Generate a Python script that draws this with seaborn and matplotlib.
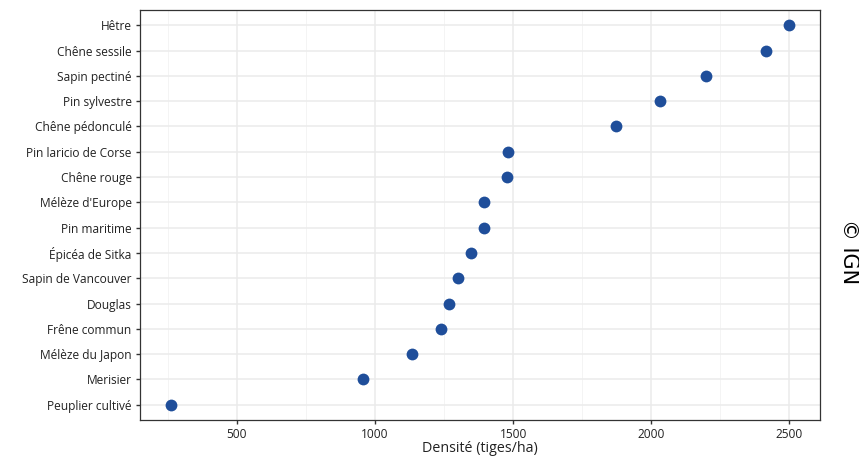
import pandas as pd
import matplotlib.pyplot as plt
import seaborn as sns

# Data
especes = ["Hêtre", "Chêne sessile", "Sapin pectiné", "Pin sylvestre", "Chêne pédonculé",
           "Pin laricio de Corse", "Chêne rouge", "Mélèze d'Europe", "Pin maritime",
           "Épicéa de Sitka", "Sapin de Vancouver", "Douglas", "Frêne commun",
           "Mélèze du Japon", "Merisier", "Peuplier cultivé"]
densite = [2500, 2417, 2199, 2033, 1873, 1482, 1478, 1395, 1393, 1346, 1299, 1266,
           1237, 1134, 957, 261]
xticks = [500, 1000, 1500, 2000, 2500]

df = pd.DataFrame({"espece": especes, "densite": densite})

sns.set_style("white")
plt.rcParams['font.family'] = ['Open Sans', 'DejaVu Sans']

fig = plt.figure(figsize=(8.59, 4.57), dpi=100)
ax = fig.add_axes([0.163, 0.081, 0.792, 0.897])

sns.stripplot(data=df, x="densite", y="espece", order=especes, jitter=False,
              color="#1f4e9a", size=8.5, ax=ax, zorder=3)

ax.set_xlim(149, 2612)
ax.set_ylim(len(especes) - 0.4, -0.6)
ax.set_xticks(xticks)
ax.set_xticks([250, 750, 1250, 1750, 2250], minor=True)
ax.grid(True, which="major", color="#ebebeb", linewidth=1.1, zorder=0)
ax.grid(True, which="minor", axis="x", color="#f2f2f2", linewidth=0.6, zorder=0)
ax.set_axisbelow(True)

for s in ax.spines.values():
    s.set_color("#333333")
    s.set_linewidth(0.9)

ax.tick_params(axis="both", which="major", length=3, width=1, color="#333333",
               labelsize=8.6, labelcolor="#222222", pad=3, direction="out")
ax.tick_params(axis="x", which="minor", length=0)
ax.tick_params(left=True, bottom=True)

ax.set_xlabel("Densité (tiges/ha)", fontsize=10.3, color="#222222", labelpad=0)
ax.set_ylabel("")

fig.text(0.988, 0.45, "© IGN", rotation=-90, fontsize=15, color="black",
         ha="center", va="center", family=['DejaVu Sans'])

fig.savefig("out.png", dpi=100)
